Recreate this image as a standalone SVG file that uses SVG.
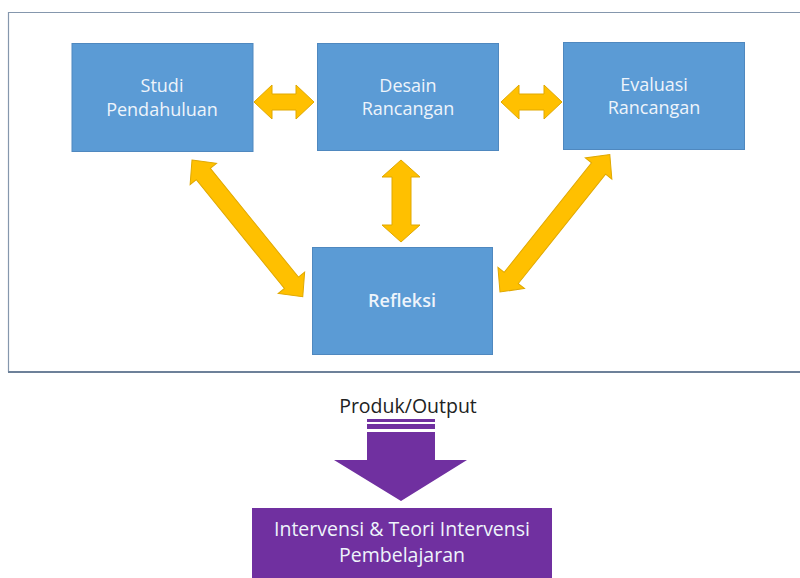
<svg xmlns="http://www.w3.org/2000/svg" width="800" height="578" viewBox="0 0 800 578">
  <defs>
    <style>
      .frame { fill: none; stroke: #8597ad; stroke-width: 1.2; }
      .box { fill: #5b9bd5; stroke: #4f88bf; stroke-width: 1; }
      .lbl { font-family: "Open Sans", "Liberation Sans", sans-serif; font-size: 18px; fill: #eef4fb; text-anchor: middle; }
      .big { font-size: 19.5px; }
      .arrow { fill: #ffc000; stroke: #e0a800; stroke-width: 1; stroke-linejoin: miter; }
      .out { fill: #7030a0; }
    </style>
    <!-- two-headed arrow along +x, 176 long, centred on y=0 -->
    <path id="dbl" d="M0,0 L18,-17 L18,-9 L158,-9 L158,-17 L176,0 L158,17 L158,9 L18,9 L18,17 Z"/>
  </defs>

  <rect width="800" height="578" fill="#ffffff"/>

  <!-- surrounding frame (open on the right) -->
  <g id="frame">
    <path class="frame" d="M801,12.5 H8.5 V372"/>
    <line x1="8" y1="372" x2="801" y2="372" stroke="#6d8199" stroke-width="2"/>
  </g>

  <g id="connectors">
    <path class="arrow" d="M254,102 L272,85 L272,94 L296,94 L296,85 L314,102 L296,119 L296,110 L272,110 L272,119 Z"/>
    <path class="arrow" d="M501,102 L519,85 L519,94 L544,94 L544,85 L562,102 L544,119 L544,110 L519,110 L519,119 Z"/>
    <path class="arrow" d="M401,160 L420,177 L411,177 L411,225 L420,225 L401,242 L382,225 L392,225 L392,177 L382,177 Z"/>
    <use href="#dbl" class="arrow" transform="translate(192,160) rotate(51)"/>
    <use href="#dbl" class="arrow" transform="translate(500,292) rotate(-51.4)"/>
  </g>

  <g id="studi">
    <rect class="box" x="72" y="43.5" width="181" height="108"/>
    <text class="lbl" x="162" y="92">Studi</text>
    <text class="lbl" x="162" y="116">Pendahuluan</text>
  </g>

  <g id="desain">
    <rect class="box" x="317.5" y="43.5" width="181" height="107"/>
    <text class="lbl" x="408" y="92">Desain</text>
    <text class="lbl" x="408" y="115">Rancangan</text>
  </g>

  <g id="evaluasi">
    <rect class="box" x="563.5" y="42.5" width="181" height="107"/>
    <text class="lbl" x="654" y="91">Evaluasi</text>
    <text class="lbl" x="654" y="114">Rancangan</text>
  </g>

  <g id="refleksi">
    <rect class="box" x="312.5" y="247.5" width="180" height="107"/>
    <text class="lbl" x="402" y="307" font-weight="600">Refleksi</text>
  </g>

  <g id="output-label">
    <text x="408" y="413" font-family="Open Sans, Liberation Sans, sans-serif" font-size="19.5" fill="#222222" text-anchor="middle">Produk/Output</text>
  </g>

  <g id="output-arrow">
    <rect class="out" x="367" y="419" width="68" height="3"/>
    <rect class="out" x="367" y="424" width="68" height="5"/>
    <path class="out" d="M367,432 H435 V460 H467 L401,501 L334,460 H367 Z"/>
  </g>

  <g id="intervensi">
    <rect class="out" x="252" y="508" width="300" height="72"/>
    <text class="lbl big" x="402" y="536" fill="#f0e8f6">Intervensi &amp; Teori Intervensi</text>
    <text class="lbl big" x="402" y="562" fill="#f0e8f6">Pembelajaran</text>
  </g>
</svg>
